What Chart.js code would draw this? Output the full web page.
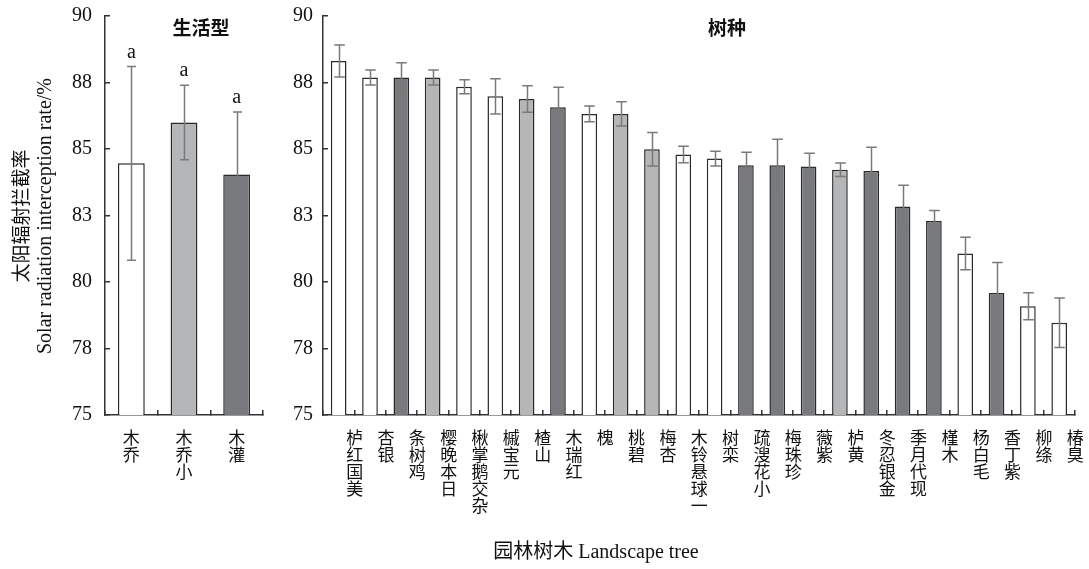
<!DOCTYPE html>
<html>
<head>
<meta charset="utf-8">
<script src="https://cdn.jsdelivr.net/npm/chart.js@4.4.1/dist/chart.umd.min.js"></script>
<style>
  html, body { margin: 0; padding: 0; background: #fff; }
  #wrap { position: relative; width: 1089px; height: 569px; overflow: hidden; background: #fff; }
  #lifeChart { position: absolute; left: 0; top: 0; }
  #speciesChart { position: absolute; left: 280px; top: 0; }
</style>
</head>
<body>
<div id="wrap">
  <canvas id="lifeChart" width="280" height="569"></canvas>
  <canvas id="speciesChart" width="809" height="569"></canvas>
</div>
<script>
// ---- data ----
const lifeForms = ['乔木', '小乔木', '灌木'];
const lifeMeans = [84.46, 86.00, 84.04];
const lifeErrors = [3.64, 1.40, 2.35];
const lifeLetters = ['a', 'a', 'a'];

const speciesNames = ['美国红栌', '银杏', '鸡树条', '日本晚樱', '杂交鹅掌楸', '元宝槭', '山楂', '红瑞木',
  '槐', '碧桃', '杏梅', '一球悬铃木', '栾树', '小花溲疏', '珍珠梅', '紫薇', '黄栌', '金银忍冬',
  '现代月季', '木槿', '毛白杨', '紫丁香', '绦柳', '臭椿'];
const speciesForm = ['乔木', '乔木', '灌木', '小乔木', '乔木', '乔木', '小乔木', '灌木',
  '乔木', '小乔木', '小乔木', '乔木', '乔木', '灌木', '灌木', '灌木', '小乔木', '灌木',
  '灌木', '灌木', '乔木', '灌木', '乔木', '乔木'];
const speciesMeans = [88.31, 87.69, 87.69, 87.69, 87.34, 86.98, 86.88, 86.57, 86.32, 86.32, 84.99, 84.79,
  84.64, 84.39, 84.39, 84.34, 84.22, 84.17, 82.84, 82.29, 81.07, 79.59, 79.09, 78.47];
const speciesErrors = [0.60, 0.28, 0.55, 0.28, 0.26, 0.66, 0.50, 0.75, 0.30, 0.46, 0.63, 0.31,
  0.28, 0.49, 0.98, 0.50, 0.25, 0.90, 0.80, 0.40, 0.61, 1.14, 0.51, 0.93];

const yTickValues = [75, 77.5, 80, 82.5, 85, 87.5, 90];
const yTickLabels = ['75', '78', '80', '83', '85', '88', '90'];

// ---- styles ----
const FONT = "'Liberation Serif', 'Noto Sans CJK SC', serif";
const formColor = { '乔木': '#ffffff', '小乔木': '#b5b6b8', '灌木': '#797a7e' };
const AXIS = '#333333';

// error bars with caps, plus optional significance letters
const errorBars = {
  id: 'errorBars',
  afterDatasetsDraw(chart, args, opts) {
    const ctx = chart.ctx;
    const y = chart.scales.y;
    const meta = chart.getDatasetMeta(0);
    const data = chart.data.datasets[0].data;
    ctx.save();
    ctx.strokeStyle = opts.color;
    ctx.lineWidth = opts.width;
    meta.data.forEach((bar, i) => {
      const v = data[i], e = opts.errors[i];
      const x = Math.round(bar.x) + 0.5;
      const yt = y.getPixelForValue(v + e);
      const yb = y.getPixelForValue(v - e);
      ctx.beginPath();
      ctx.moveTo(x, yt); ctx.lineTo(x, yb);
      ctx.moveTo(x - opts.cap, yt); ctx.lineTo(x + opts.cap, yt);
      ctx.moveTo(x - opts.cap, yb); ctx.lineTo(x + opts.cap, yb);
      ctx.stroke();
      if (opts.letters) {
        ctx.fillStyle = '#111';
        ctx.font = opts.letterFont;
        ctx.textAlign = 'center';
        ctx.textBaseline = 'middle';
        ctx.fillText(opts.letters[i], bar.x, yt - opts.letterGap);
      }
    });
    ctx.restore();
  }
};

// free text: panel titles and axis titles
const freeText = {
  id: 'freeText',
  afterDraw(chart, args, opts) {
    const ctx = chart.ctx;
    (opts.items || []).forEach(it => {
      ctx.save();
      ctx.font = it.font;
      ctx.fillStyle = '#111';
      ctx.textAlign = 'center';
      ctx.textBaseline = 'middle';
      ctx.translate(it.x, it.y);
      if (it.rotate) ctx.rotate(it.rotate);
      ctx.fillText(it.text, 0, 0);
      ctx.restore();
    });
  }
};

function yScale(width, pad) {
  return {
    min: 75, max: 90,
    afterBuildTicks(scale) { scale.ticks = yTickValues.map(v => ({ value: v })); },
    afterFit(scale) {
      scale.width = width;
      scale.paddingTop = 0;
      scale.paddingBottom = 0;
    },
    ticks: {
      color: '#111',
      padding: pad,
      font: { family: FONT, size: 20 },
      callback(value) { return yTickLabels[yTickValues.indexOf(value)]; }
    },
    grid: { drawOnChartArea: false, drawTicks: true, tickLength: -5, color: AXIS, lineWidth: 1.5 },
    border: { display: true, color: AXIS, width: 1.5 }
  };
}

function xScale(names, labelOffset) {
  return {
    afterFit(scale) { scale.height = 154; },
    ticks: {
      color: '#111',
      autoSkip: false,
      maxRotation: 0,
      minRotation: 0,
      padding: 21,
      labelOffset: labelOffset,
      font: { family: FONT, size: 17, lineHeight: 1.0 },
      callback(value, index) { return Array.from(names[index]).reverse(); }
    },
    grid: { drawOnChartArea: false, drawTicks: true, tickLength: -5, color: AXIS, lineWidth: 1.5, offset: true },
    border: { display: true, color: AXIS, width: 1.5 }
  };
}

Chart.defaults.animation = false;

new Chart(document.getElementById('lifeChart'), {
  type: 'bar',
  data: {
    labels: lifeForms,
    datasets: [{
      data: lifeMeans,
      backgroundColor: lifeForms.map(f => formColor[f]),
      borderColor: '#2a2a2a',
      borderWidth: 1.5,
      borderSkipped: false,
      barPercentage: 0.51,
      categoryPercentage: 1.0
    }]
  },
  options: {
    responsive: false,
    devicePixelRatio: 1,
    layout: { padding: { left: 0, right: 17, top: 16, bottom: 0 } },
    plugins: {
      legend: { display: false },
      tooltip: { enabled: false },
      errorBars: { errors: lifeErrors, color: '#7a7a7a', width: 1.5, cap: 4.5,
        letters: lifeLetters, letterFont: '20px ' + FONT, letterGap: 14 },
      freeText: { items: [
        { text: '生活型', x: 201, y: 30, font: 'bold 19px ' + FONT },
        { text: '太阳辐射拦截率', x: 23, y: 216, rotate: -Math.PI / 2, font: '19px ' + FONT },
        { text: 'Solar radiation interception rate/%', x: 46, y: 216, rotate: -Math.PI / 2, font: '20px ' + FONT }
      ] }
    },
    scales: { x: xScale(lifeForms, 0), y: yScale(105, 18) }
  },
  plugins: [errorBars, freeText]
});

new Chart(document.getElementById('speciesChart'), {
  type: 'bar',
  data: {
    labels: speciesNames,
    datasets: [{
      data: speciesMeans,
      backgroundColor: speciesForm.map(f => formColor[f]),
      borderColor: '#2a2a2a',
      borderWidth: 1.5,
      borderSkipped: false,
      barPercentage: 0.5,
      categoryPercentage: 1.0
    }]
  },
  options: {
    responsive: false,
    devicePixelRatio: 1,
    layout: { padding: { left: 0, right: 14, top: 16, bottom: 0 } },
    plugins: {
      legend: { display: false },
      tooltip: { enabled: false },
      errorBars: { errors: speciesErrors, color: '#7a7a7a', width: 1.5, cap: 5.3 },
      freeText: { items: [
        { text: '树种', x: 447, y: 30, font: 'bold 19px ' + FONT },
        { text: '园林树木 Landscape tree', x: 316, y: 553, font: '20px ' + FONT }
      ] }
    },
    scales: { x: xScale(speciesNames, 16), y: yScale(43, 15) }
  },
  plugins: [errorBars, freeText]
});
</script>
</body>
</html>
